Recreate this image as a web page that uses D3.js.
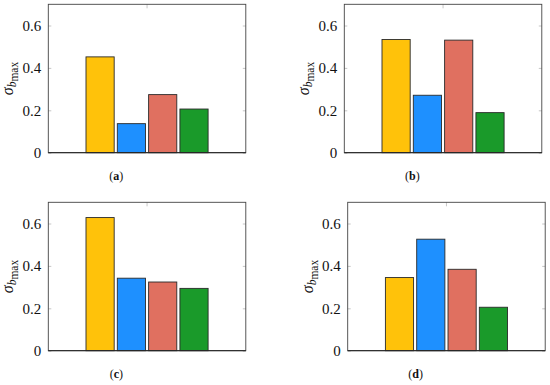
<!DOCTYPE html>
<html>
<head>
<meta charset="utf-8">
<script src="https://cdn.jsdelivr.net/npm/d3@7"></script>
<style>
  html, body { margin: 0; padding: 0; background: #fff; }
  svg { display: block; }
</style>
</head>
<body>
<svg id="chart" width="550" height="385"></svg>
<script>
// ---- data ----
const panels = ["(a)", "(b)", "(c)", "(d)"];
const seriesNames = ["S1", "S2", "S3", "S4"];
const seriesColors = ["#FFC20A", "#1E90FF", "#E07060", "#1A9A2A"];
const valuesS1 = [0.452, 0.534, 0.628, 0.345];
const valuesS2 = [0.137, 0.271, 0.342, 0.526];
const valuesS3 = [0.274, 0.531, 0.324, 0.384];
const valuesS4 = [0.206, 0.189, 0.294, 0.205];
const yTicks = [0, 0.2, 0.4, 0.6];
const yTickLabels = ["0", "0.2", "0.4", "0.6"];
const yMax = 0.7;

// ---- layout ----
const frames = [
  { left: 48.3, top: 4.3 },
  { left: 344.3, top: 4.3 },
  { left: 48.3, top: 202.3 },
  { left: 347.7, top: 202.3 }
];
const fw = 197.5, fh = 148.4;
const font = "'Liberation Serif', 'Times New Roman', serif";

const svg = d3.select("#chart");
const allSeries = [valuesS1, valuesS2, valuesS3, valuesS4];

panels.forEach((label, i) => {
  const f = frames[i];
  const g = svg.append("g").attr("transform", `translate(${f.left},${f.top})`);
  const y = d3.scaleLinear().domain([0, yMax]).range([fh, 0]);
  const x = d3.scaleBand().domain(seriesNames).range([37.7, fw - 37.7]).paddingInner(0.1);

  // left ticks + labels
  const ax = g.append("g").call(
    d3.axisLeft(y).tickValues(yTicks).tickFormat((d, k) => yTickLabels[k]).tickSizeInner(-3).tickSizeOuter(0).tickPadding(7)
  );
  ax.select(".domain").remove();
  ax.selectAll(".tick line").attr("stroke", "#b8b8b8").attr("stroke-width", 0.8);
  ax.selectAll(".tick text").attr("font-family", font).attr("font-size", 15).attr("fill", "#111");

  // right ticks
  const axr = g.append("g").attr("transform", `translate(${fw},0)`).call(
    d3.axisRight(y).tickValues(yTicks).tickFormat("").tickSizeInner(-3).tickSizeOuter(0)
  );
  axr.select(".domain").remove();
  axr.selectAll(".tick line").attr("stroke", "#b8b8b8").attr("stroke-width", 0.8);

  // top tick at centre
  g.append("line").attr("x1", fw / 2).attr("x2", fw / 2).attr("y1", 0).attr("y2", 4)
    .attr("stroke", "#b8b8b8").attr("stroke-width", 0.8);

  // bars
  const data = seriesNames.map((s, k) => ({ s, v: allSeries[k][i], c: seriesColors[k] }));
  g.selectAll("rect.bar").data(data).enter().append("rect")
    .attr("class", "bar")
    .attr("x", d => x(d.s))
    .attr("width", x.bandwidth())
    .attr("y", d => y(d.v))
    .attr("height", d => y(0) - y(d.v))
    .attr("fill", d => d.c)
    .attr("stroke", "#2a2a2a")
    .attr("stroke-width", 0.9);

  // frame
  g.append("rect").attr("x", 0).attr("y", 0).attr("width", fw).attr("height", fh)
    .attr("fill", "none").attr("stroke", "#444").attr("stroke-width", 0.9);
  g.append("line").attr("x1", 0).attr("x2", fw).attr("y1", fh).attr("y2", fh)
    .attr("stroke", "#222").attr("stroke-width", 1);

  // y label
  const yl = g.append("text")
    .attr("transform", `translate(-35,${fh / 2}) rotate(-90)`)
    .attr("text-anchor", "middle")
    .attr("font-family", font)
    .attr("fill", "#111");
  yl.append("tspan").attr("font-size", 16).attr("font-style", "italic").text("σ");
  yl.append("tspan").attr("font-size", 11.5).attr("font-style", "italic").attr("dy", 3).text("b");
  yl.append("tspan").attr("font-size", 11.5).attr("dy", 2).text("max");

  // panel label
  const pl = g.append("text")
    .attr("x", 68).attr("y", fh + 27)
    .attr("text-anchor", "middle")
    .attr("font-family", font)
    .attr("font-size", 12)
    .attr("fill", "#111");
  pl.append("tspan").text("(");
  pl.append("tspan").attr("font-weight", "bold").text(label.slice(1, -1));
  pl.append("tspan").text(")");
});
</script>
</body>
</html>
